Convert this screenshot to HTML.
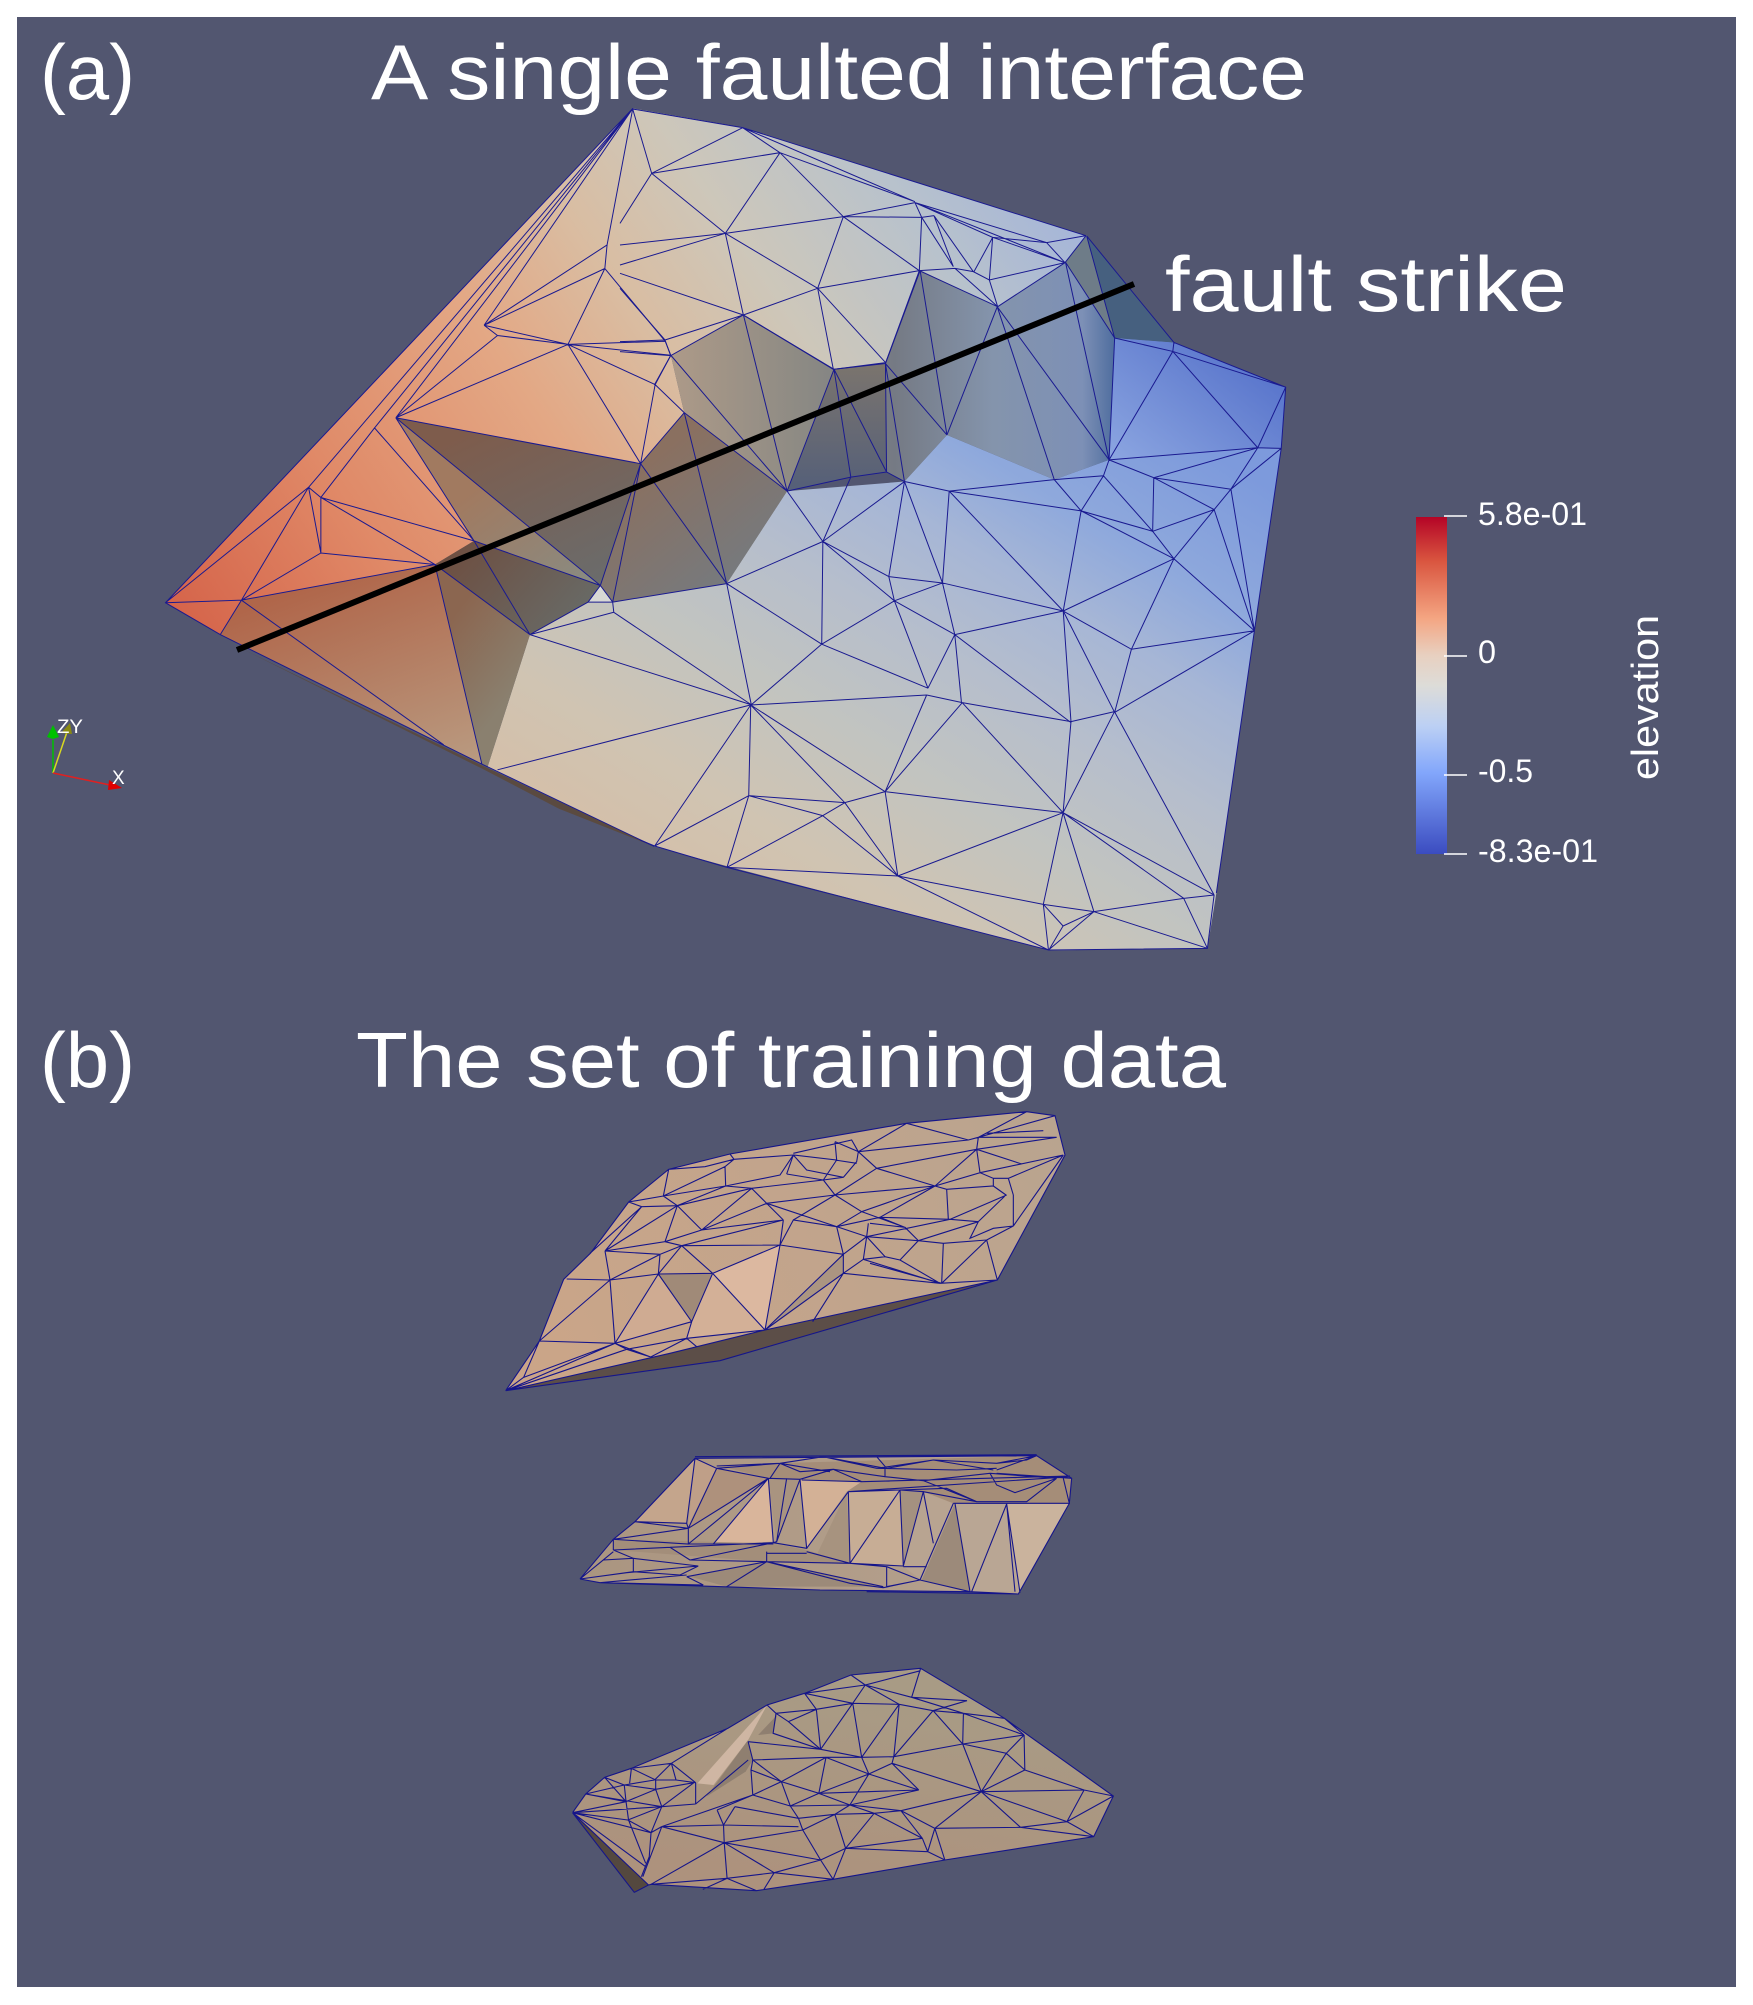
<!DOCTYPE html>
<html><head><meta charset="utf-8"><style>html,body{margin:0;padding:0;background:#fff}svg{display:block}text{font-family:"Liberation Sans",sans-serif;fill:#fff}</style></head>
<body>
<svg width="1753" height="2005" viewBox="0 0 1753 2005" xmlns="http://www.w3.org/2000/svg">
<defs>
<linearGradient id="up" gradientUnits="userSpaceOnUse" x1="150" y1="945" x2="1130" y2="563">
<stop offset="0" stop-color="#d5644a"/><stop offset=".2" stop-color="#e08a68"/><stop offset=".4" stop-color="#e3a885"/><stop offset=".53" stop-color="#d9bda2"/><stop offset=".65" stop-color="#cdc7ba"/><stop offset=".8" stop-color="#b8c2cc"/><stop offset="1" stop-color="#9aaee0"/></linearGradient>
<linearGradient id="lo" gradientUnits="userSpaceOnUse" x1="500" y1="1350" x2="1130" y2="760">
<stop offset="0" stop-color="#d6bda5"/><stop offset=".2" stop-color="#d0c4b2"/><stop offset=".38" stop-color="#c2c4c0"/><stop offset=".55" stop-color="#b6becc"/><stop offset=".7" stop-color="#a6b6d6"/><stop offset=".82" stop-color="#8fa9dc"/><stop offset="1" stop-color="#7d9adc"/></linearGradient>
<linearGradient id="ne" gradientUnits="userSpaceOnUse" x1="1000" y1="720" x2="1150" y2="610"><stop offset="0" stop-color="#8aa4e0"/><stop offset="1" stop-color="#5a76cc"/></linearGradient>
<linearGradient id="sc" gradientUnits="userSpaceOnUse" x1="600" y1="620" x2="1000" y2="620"><stop offset="0" stop-color="#ad9a88"/><stop offset=".3" stop-color="#8c8a84"/><stop offset=".5" stop-color="#757a84"/><stop offset=".72" stop-color="#8494ac"/><stop offset=".92" stop-color="#7d90b6"/><stop offset="1" stop-color="#4a6a9c"/></linearGradient>
<linearGradient id="sd" gradientUnits="userSpaceOnUse" x1="770" y1="575" x2="770" y2="760"><stop offset="0" stop-color="#7a746e"/><stop offset="1" stop-color="#566078"/></linearGradient>
<linearGradient id="ll" gradientUnits="userSpaceOnUse" x1="260" y1="930" x2="430" y2="1190"><stop offset="0" stop-color="#b0664a"/><stop offset="1" stop-color="#b99a80"/></linearGradient>
<linearGradient id="d1" gradientUnits="userSpaceOnUse" x1="390" y1="700" x2="560" y2="900"><stop offset="0" stop-color="#7e5c4c"/><stop offset="1" stop-color="#6a6c6c"/></linearGradient>
<linearGradient id="d2" gradientUnits="userSpaceOnUse" x1="390" y1="1000" x2="480" y2="1040"><stop offset="0" stop-color="#8b6650"/><stop offset="1" stop-color="#8a806f"/></linearGradient>
<linearGradient id="d3" gradientUnits="userSpaceOnUse" x1="400" y1="800" x2="530" y2="900"><stop offset="0" stop-color="#a17a60"/><stop offset="1" stop-color="#8a8a80"/></linearGradient>
<linearGradient id="d4" gradientUnits="userSpaceOnUse" x1="390" y1="880" x2="530" y2="950"><stop offset="0" stop-color="#6e4e40"/><stop offset="1" stop-color="#686a66"/></linearGradient>
<linearGradient id="d5" gradientUnits="userSpaceOnUse" x1="560" y1="750" x2="700" y2="850"><stop offset="0" stop-color="#8a7060"/><stop offset="1" stop-color="#767a7e"/></linearGradient>
<linearGradient id="cb" x1="0" y1="0" x2="0" y2="1"><stop offset="0" stop-color="#b40426"/><stop offset=".13" stop-color="#d9553f"/><stop offset=".3" stop-color="#f4a582"/><stop offset=".41" stop-color="#e8d0c0"/><stop offset=".5" stop-color="#dddcd8"/><stop offset=".62" stop-color="#bcd0f4"/><stop offset=".76" stop-color="#82a6fb"/><stop offset="1" stop-color="#3b4cc0"/></linearGradient>
<linearGradient id="m1" gradientUnits="userSpaceOnUse" x1="-100" y1="800" x2="1500" y2="100"><stop offset="0" stop-color="#cba588"/><stop offset="1" stop-color="#b9a48f"/></linearGradient>
<linearGradient id="m2" gradientUnits="userSpaceOnUse" x1="30" y1="400" x2="1500" y2="200"><stop offset="0" stop-color="#aa9580"/><stop offset="1" stop-color="#b7a390"/></linearGradient>
<linearGradient id="m3" gradientUnits="userSpaceOnUse" x1="800" y1="100" x2="700" y2="700"><stop offset="0" stop-color="#a89b85"/><stop offset="1" stop-color="#ad927d"/></linearGradient>
</defs>
<rect x="0" y="0" width="1753" height="2005" fill="#fff"/>
<rect x="17" y="17" width="1719" height="1970" fill="#525670"/>

<g transform="scale(1.118,0.6378)">
<polygon fill="url(#up)" points="566,170 665,200 972,370 953,411 892,481 823,424 792,570 746,579 665,494 600,557 612,647 573,727 354,655 424,848 389,885 216,941 197,995 148,945"/>
<polygon fill="url(#lo)" points="436,1203 474,995 526,944 548,944 650,915 704,770 809,755 847,682 943,752 992,721 997,530 1050,537 1150,607 1146,703 1122,989 1088,1400 1080,1487 938,1490 650,1358 585,1327"/>
<polygon fill="url(#ne)" points="997,530 1050,537 1150,607 1146,703 1125,702 992,721"/>
<polygon fill="url(#sc)" points="665,494 746,579 792,570 823,424 892,481 953,411 997,530 992,721 943,752 847,682 809,755 793,740 761,748 704,770 650,915 548,944 537,918 573,727 612,647 600,557"/>
<polygon fill="url(#sd)" points="746,579 792,570 793,740 761,748 704,770"/>
<polygon fill="#46607f" points="972,370 1050,537 997,530 953,411"/>
<polygon fill="#6e7c88" points="972,370 997,530 953,411"/>
<polygon fill="url(#d5)" points="573,727 537,918 548,944 650,915 704,770 612,647"/>
<polygon fill="url(#d1)" points="354,655 573,727 537,918"/>
<polygon fill="url(#d3)" points="354,655 537,918 424,848"/>
<polygon fill="url(#ll)" points="216,941 389,885 431,1198 197,995"/>
<polygon fill="url(#d2)" points="389,885 474,995 436,1203 431,1198"/>
<polygon fill="url(#d4)" points="389,885 424,848 537,918 526,944 474,995"/>
<polygon fill="#d8d8d4" points="526,944 537,918 548,944"/>
<polygon fill="#5a4a40" points="215,1016 431,1200 585,1327 500,1268 431,1205"/>
<path fill="none" stroke="#1a1a90" stroke-width="1" vector-effect="non-scaling-stroke" d="M972 370L1050 537L1150 607L1146 703L1122 989L1088 1400M585 1327L431 1198L197 995L148 945L566 170
M566 170L276 764M566 170L335 671M566 170L354 655M566 170L433 510
M148 945L276 764M148 945L216 941L197 995M216 941L276 764M216 941L287 867L389 885M216 941L389 885M276 764L287 867L287 780L276 764M287 780L389 885M287 780L424 848M287 780L335 671L424 848M354 655L424 848M354 655L537 918M354 655L573 727M354 655L508 540M354 655L445 526M433 510L445 526L508 540L433 510M433 510L541 421M433 510L543 384M541 421L508 540M541 421L595 535M508 540L595 535L600 557L508 540M508 540L586 603M508 540L573 727M586 603L600 557M586 603L612 647M586 603L573 727M612 647L573 727M541 421L543 384L566 170M573 727L537 918M573 727L548 944M424 848L537 918M389 885L474 995M424 848L474 995M431 1198L389 885M216 941L397 1168M474 995L526 944L537 918L548 944L549 960L474 995M526 944L548 944M548 944L650 915
M573 727L650 915M600 557L704 770M612 647L704 770M612 647L650 915M665 494L704 770M665 494L746 579L704 770M746 579L761 748M746 579L793 740M792 570L746 579M792 570L793 740L809 755L792 570M792 570L847 682M823 424L792 570M823 424L847 682M892 481L847 682M892 481L943 752M892 481L992 721M953 411L992 721M972 370L997 530M953 411L997 530L992 721M704 770L761 748L793 740L809 755
M992 721L1125 702L1146 703M992 721L987 746L943 752M992 721L1032 749L1125 702M997 530L1049 551L1150 607M1050 537L1049 551L992 721M1049 551L1125 702M1125 702L1150 607M1032 749L1101 767L1125 702M1101 767L1146 703M1032 749L1086 799L1101 767M1032 749L1031 833L1086 799M987 746L1031 833M987 746L967 801M943 752L967 801L1031 833M1031 833L1050 876L1086 799M1050 876L967 801M1050 876L1122 989M1086 799L1122 989M1101 767L1122 989M1050 876L951 958M1050 876L1012 1018M951 958L1012 1018L1122 989M967 801L951 958M849 770L951 958M849 770L967 801M849 770L943 752M849 770L809 755M849 770L843 914M809 755L843 914M809 755L795 904M809 755L736 849M761 748L736 849M704 770L736 849M736 849L795 904M736 849L800 942M736 849L735 1010M736 849L650 915M795 904L843 914M800 942L843 914M795 904L800 942M843 914L951 958M843 914L854 995M800 942L854 995M800 942L735 1010M800 942L830 1079M854 995L830 1079M854 995L951 958M854 995L860 1102M854 995L958 1133M951 958L958 1133M951 958L997 1117M1012 1018L997 1117M1122 989L997 1117M650 915L735 1010M650 915L672 1105M735 1010L672 1105M474 995L672 1105M549 960L672 1105M672 1105L445 1207M735 1010L830 1079"/>
</g>

<g transform="translate(620,100) scale(.33333)">
<path fill="none" stroke="#1a1a90" stroke-width="1" vector-effect="non-scaling-stroke" d="M38 27L368 83L1398 407M38 27L95 220L368 83M95 220L480 158L368 83M480 158L885 305M368 83L885 305M95 220L316 400M95 220L0 370M480 158L316 400M480 158L670 350M0 435L316 400L670 350L905 352L942 347M670 350L885 308M885 308L1280 428L1398 407M885 308L1118 412L1280 428M885 308L1335 488M1118 412L1335 488M1280 428L1335 488M1335 488L1398 407M905 352L885 308M905 352L898 512M670 350L898 512M670 350L593 565M316 400L593 565M316 400L370 645M0 495L316 400M0 520L370 645M370 645L593 565L898 512L1005 505L1060 515L1108 540L1335 488M942 347L1060 515M942 347L1000 500M905 352L1000 500M1118 412L1062 515M1118 412L1108 540M1005 505L1133 620M1108 540L1133 620M1335 488L1133 620M898 512L1133 620M593 565L640 808M593 565L797 788M898 512L797 788M370 645L640 808L797 788M370 645L135 720L152 767L370 645M0 725L135 720M0 565L135 720M0 755L152 767M152 767L103 855"/>
</g>
<g transform="translate(640,640) scale(.3954,.33333)">
<path fill="none" stroke="#1a1a90" stroke-width="1" vector-effect="non-scaling-stroke" d="M0 600L37 618L220 682L1033 930L1435 925L1452 765M280 195L37 618M280 195L275 467M280 195L518 488M280 195L620 455M275 467L37 618M275 467L220 682M275 467L518 488M275 467L462 527M518 488L620 455M462 527L518 488M462 527L220 682M462 527L652 708M518 488L652 708M620 455L652 708M220 682L652 708M620 455L725 165M620 455L815 188M620 455L1070 518M652 708L1070 518M652 708L1020 793M652 708L1033 930M280 195L725 165M725 165L815 188M815 188L1090 245M815 188L1070 518M1090 245L1200 215M1090 245L1070 518M1200 215L1070 518M1200 215L1452 765M1070 518L1452 765M1070 518L1375 775M1070 518L1020 793M1070 518L1148 815M1020 793L1148 815L1375 775L1452 765M1375 775L1435 925M1148 815L1435 925M1148 815L1035 928M1020 793L1033 930M1020 793L1070 858L1035 928M1070 858L1148 815"/>
</g>
<line x1="237" y1="650" x2="1134" y2="284" stroke="#000" stroke-width="6"/>

<g transform="translate(560,1100) scale(.33333)">
<polygon fill="url(#m1)" points="-163,872 -62,723 11,538 92,459 206,306 326,208 510,162 1040,70 1400,35 1485,47 1515,165 1312,540 480,782"/>
<polygon fill="#5c4e48" points="-163,872 330,760 615,690 1312,540 480,782"/>
<polygon fill="#dcb8a0" points="458,520 660,435 615,690"/>
<polygon fill="#a08a78" points="295,522 458,520 395,665"/>
<polygon fill="#cfab92" points="165,730 295,522 395,665"/>
<polygon fill="#d3b097" points="395,665 458,520 615,690 380,715"/>
<polygon fill="#ab9581" points="615,690 850,463 850,520"/>
<path fill="none" stroke="#15158a" stroke-width="1.1" vector-effect="non-scaling-stroke" d="M-163 872L-62 723L11 538L92 459L206 306L326 208L510 162L1040 70L1400 35L1485 47L1515 165L1312 540L615 690L330 760L-163 872L480 782L1312 540
M326 208L310 288M206 306L310 288L495 200L522 178L510 162M326 208L435 200L522 178L700 165M495 200L497 258M206 306L245 320L352 317M245 320L90 460M310 288L352 317M310 288L497 258L660 225L700 165L830 180L825 125M352 317L497 258M352 317L575 265M352 317L315 425L135 453M352 317L425 390M245 320L135 453M352 317L135 453M497 258L575 265L790 240L680 222M575 265L425 390M575 265L620 310M620 310L670 360M620 310L825 285M620 310L830 380M425 390L670 360M425 390L315 425M425 390L620 310M315 425L365 437L300 463L135 453M365 437L660 435M365 437L670 360M365 437L295 522M300 463L295 522M300 463L150 540M135 453L150 540M20 537L150 540L295 522L458 520L365 437M295 522L395 665L458 520M295 522L165 730M150 540L165 730M165 730L395 665M150 540L-62 723M165 730L-62 723M458 520L660 435L615 690M458 520L615 690M395 665L380 715L615 690M660 435L670 360M660 435L850 463L830 380M660 435L700 360L830 380M850 463L850 520L615 690M850 463L615 690M850 520L758 665M850 520L1140 550L1312 540M850 520L910 478L1140 550M930 490L1145 550M850 463L920 410L910 478L975 470L1020 480L1140 550M830 380L920 410M830 380L960 352M925 370L920 410L975 470M920 410L1075 422L1020 480M1075 422L1150 430L1280 420M920 410L1170 358L1255 365M960 352L1170 358M930 370L1035 382L1075 422M960 352L1035 382M1075 422L1255 365M1150 430L1145 550M1280 420L1145 550M1280 420L1312 540M1280 420L1360 378L1300 385L1230 415L1255 365M1360 378L1360 285M1360 285L1345 235L1300 235L1260 218L1125 258L1160 268L1300 258L1338 285L1255 365M1340 285L1170 358M1160 268L1165 358M1300 235L1300 258M1360 378L1510 165M1345 235L1510 165M1260 218L1510 165M1385 192L1250 148M1250 148L1125 258M1250 148L1260 218M1250 148L950 205M1250 148L1490 112M1225 120L1255 112L1400 35M1255 112L1485 47M1255 112L1490 112M1280 100L1450 92M1040 70L1225 120L895 155M1040 70L895 155M1255 112L1250 148M895 155L950 205L1125 258M895 155L875 120L700 160M895 155L890 185L850 232M825 125L895 155M825 180L890 190M700 165L740 210L850 232L790 240M700 165L680 222M830 180L790 240M950 205L825 285M1125 258L825 285M1125 258L905 335L825 285M825 285L790 240M825 285L700 360M905 335L830 380M905 335L1035 382M960 352L1125 258M-163 872L-109 832L-62 723M-109 832L165 730M-163 872L165 730M165 730L272 771M165 730L200 748L380 715M-163 872L200 748M200 748L272 771M272 771L380 715M380 715L410 740"/>
</g>

<g transform="translate(570,1440) scale(.33333)">
<polygon fill="url(#m2)" points="30,417 130,298 195,245 375,55 1400,47 1505,115 1498,190 1345,462 1200,455 750,450 90,428"/>
<polygon fill="#a58d78" points="440,75 1400,47 1505,115 1498,190 1150,190 835,155 690,118 595,115"/>
<polygon fill="#c4a58c" points="195,245 375,55 350,250"/>
<polygon fill="#bf9f88" points="375,55 440,85 355,255"/>
<polygon fill="#ae917c" points="440,85 595,115 355,265"/>
<polygon fill="#d9b59b" points="595,115 610,305 430,312"/>
<polygon fill="#a99480" points="595,115 690,118 620,305"/>
<polygon fill="#d3b196" points="690,118 875,125 830,155 710,325"/>
<polygon fill="#a7937f" points="830,155 840,370 740,345"/>
<polygon fill="#c7ad95" points="835,155 990,150 1000,378 842,370"/>
<polygon fill="#a49180" points="990,150 1060,155 1000,378"/>
<polygon fill="#b8a491" points="1060,155 1150,190 1055,420 1000,380"/>
<polygon fill="#9c8a7a" points="1055,420 1155,190 1200,455"/>
<polygon fill="#b9a694" points="1155,190 1310,192 1350,455 1205,455"/>
<polygon fill="#cab39d" points="1310,192 1498,190 1350,455"/>
<polygon fill="#9c8a79" points="360,410 590,365 940,440 470,440"/>
<polygon fill="#a38e7a" points="130,298 610,310 710,330 840,370 590,365 130,330"/>
<path fill="none" stroke="#15158a" stroke-width="1.1" vector-effect="non-scaling-stroke" d="M30 417L130 298L195 245L375 55L1400 47L1505 115L1498 190L1345 462L1200 455L750 450L90 428L30 417
M375 50L1400 44M375 55L350 250L195 245M375 55L440 85L355 265L350 250M440 85L595 115M440 85L630 70M355 265L595 115M355 312L595 115M355 265L355 312L130 298L195 245M195 245L355 265M130 298L355 265M130 330L130 298M130 330L300 322L360 360M300 322L610 308M595 115L610 308M355 312L610 312M430 312L595 115M650 115L620 305M595 115L690 118L620 305L610 308M690 118L710 325L610 308M695 120L875 125M710 325L835 155M835 155L1500 110M835 155L840 370M710 335L840 370M840 370L990 150M835 155L990 150M990 150L1000 378M840 370L1000 378M990 150L1060 155L1000 378M1060 155L1090 310M1060 155L1220 185L1370 185L1460 115M1150 190L1050 420M1150 190L1500 190M1155 190L1200 455M1310 192L1205 455M1310 192L1350 458M1310 192L1335 455M1480 115L1498 190M1000 380L1070 380M1050 420L950 380M1050 420L1200 455M950 380L950 440M950 440L1050 420M840 370L950 380M590 365L840 370M590 365L840 430L940 443M590 365L940 440M590 365L470 440M590 365L350 410M590 335L590 365M590 340L710 340M360 360L590 365M610 308L360 360M130 330L190 355L385 378M190 355L190 395M385 378L170 398L30 417M385 378L330 405L190 395L30 417M130 335L30 417M190 355L100 360L30 417M90 428L350 405M90 428L400 435M350 410L400 435M890 455L1345 462M940 443L1050 420M440 78L630 70L760 50L920 85L1090 60L1280 70L1400 47M630 70L690 95L790 88L945 110L1060 122L1260 100L1460 115M600 115L630 70M690 118L790 88M790 88L875 125M945 85L945 110M920 85L1160 90L1280 85M875 125L1500 108M1060 122L1220 185M1260 100L1280 135L1335 158L1460 115M990 150L1130 145L1220 185M630 70L780 95M760 50L945 85M920 50L950 85L1090 60L1270 90M1280 70L1370 60L1400 47M1280 90L1400 47M1280 100L1505 115"/>
</g>

<g transform="translate(560,1650) scale(.357,.33333)">
<polygon fill="url(#m3)" points="35,488 72,432 125,382 200,355 470,235 580,165 685,130 815,75 1010,55 1245,205 1550,438 1495,560 1078,630 765,688 550,722 255,703 208,727"/>
<polygon fill="#54483f" points="35,488 248,705 208,727"/>
<polygon fill="#cfb6a3" points="385,400 580,165 527,270 430,405"/>
<polygon fill="#8f7f70" points="410,440 527,270 540,330 520,365"/>
<polygon fill="#8f7f70" points="555,255 608,195 597,250"/>
<path fill="none" stroke="#15158a" stroke-width="1.1" vector-effect="non-scaling-stroke" d="M35 488L72 432L125 382L200 355L470 235L580 165L685 130L815 75L1010 55L1245 205L1550 438L1495 560L1078 630L765 688L550 722L255 703L248 705L35 488M248 705L208 727L35 488
M125 382L185 455M125 382L180 405L265 390M200 355L195 400M200 355L268 390L325 390L312 340L200 355M312 340L265 390M312 340L380 398M312 340L470 235M380 398L325 390M380 398L380 462M268 390L268 418L285 470M268 418L375 398M180 405L185 455M72 432L180 405M72 432L285 470M72 432L185 455M180 405L268 418M185 455L268 418M35 488L285 470M35 488L185 455M35 488L190 510M185 455L192 510M190 510L285 470M190 510L255 548L35 488M255 548L285 470M285 470L375 398M380 462L285 470M192 510L240 640M35 488L240 650M255 548L250 620M250 620L228 680M255 548L285 530M285 530L540 435M380 462L527 330M540 330L745 322L845 322L935 320L1128 282M527 275L730 298M527 275L540 330L535 360L540 435L620 395L535 360M540 330L620 395L725 430L865 372M620 395L745 322M745 322L725 430M745 322L865 372L1005 420L725 430M605 190L718 178L820 160L950 163L1045 182L1130 190L1245 205M605 190L597 250L730 298L845 322M640 215L730 298M718 178L640 215L605 190M718 178L730 298M730 298L820 160M820 160L845 322M845 322L950 163M950 163L935 320M1045 182L935 320M1045 182L1128 282M1130 190L1128 282M1128 282L1300 255M1245 205L1300 255M1130 190L1300 255M1300 255L1302 360M1300 255L1250 310L1128 282M1250 310L1302 360M1250 310L1180 425M1128 282L1180 425M1302 360L1180 425M1302 360L1468 420M1180 425L1468 420L1550 438M1468 420L1420 515M1180 425L930 340M935 320L930 340M845 322L865 372M930 340L865 372M930 340L1005 420M865 372L812 465M1005 420L812 465M1180 425L955 482M1180 425L1050 535M1180 425L1290 532M1180 425L1420 515L1495 560M1420 515L1550 438M1050 535L1290 532L1420 515M1290 532L1495 560M1050 535L1078 630M1050 535L1030 605M1015 565L1030 605L800 595M1015 565L800 595M1015 565L955 482M880 490L1015 565M880 490L800 595M955 482L1050 535M812 465L955 482L880 490L770 493M812 465L880 490M725 430L812 465M725 430L645 468M620 395L645 468L812 465M645 468L540 435M645 468L668 505M668 505L770 493L812 465M770 493L800 595M680 540L770 493M680 540L730 630M668 505L680 540M460 578L680 540M458 525L668 530M458 525L460 578M458 525L285 530M285 530L460 578M490 470L668 505M440 480L458 525M490 470L458 525M540 435L440 480M460 578L730 630M460 578L255 703M460 578L468 685M460 578L600 668M600 668L730 630M730 630L800 595M730 630L765 688M800 595L765 688M468 685L600 668M468 685L255 703M468 685L400 718M468 685L550 722M600 668L765 688M600 668L570 720M800 595L1030 605M1030 605L1078 630M285 530L232 680M815 75L855 105L1010 62M855 105L820 160M855 105L950 163M855 105L985 142L1010 55M685 130L718 178M685 130L820 160M685 130L855 105M985 142L1140 152L1045 182M985 142L1130 190M580 165L605 190"/>
</g>

<text x="40" y="99" font-size="78" textLength="95" lengthAdjust="spacingAndGlyphs">(a)</text>
<text x="371" y="99" font-size="78" textLength="936" lengthAdjust="spacingAndGlyphs">A single faulted interface</text>
<text x="1165" y="311" font-size="78" textLength="402" lengthAdjust="spacingAndGlyphs">fault strike</text>
<text x="40" y="1087" font-size="78" textLength="95" lengthAdjust="spacingAndGlyphs">(b)</text>
<text x="356" y="1087" font-size="78" textLength="870" lengthAdjust="spacingAndGlyphs">The set of training data</text>

<rect x="1416" y="517" width="31" height="337" fill="url(#cb)"/>
<g stroke="#fff" stroke-width="1.5"><line x1="1444" y1="516" x2="1467" y2="516"/><line x1="1444" y1="656" x2="1467" y2="656"/><line x1="1444" y1="775" x2="1467" y2="775"/><line x1="1444" y1="854" x2="1467" y2="854"/></g>
<g font-size="32"><text x="1478" y="525" textLength="109" lengthAdjust="spacingAndGlyphs">5.8e-01</text><text x="1478" y="663" textLength="18" lengthAdjust="spacingAndGlyphs">0</text><text x="1478" y="782" textLength="55" lengthAdjust="spacingAndGlyphs">-0.5</text><text x="1478" y="862" textLength="120" lengthAdjust="spacingAndGlyphs">-8.3e-01</text></g>
<text transform="translate(1658,780) rotate(-90)" font-size="38" textLength="165" lengthAdjust="spacingAndGlyphs">elevation</text>

<line x1="53" y1="773" x2="53" y2="740" stroke="#00c000" stroke-width="1.5"/>
<polygon fill="#00c000" points="53,725 47,737 53,739 59,737"/>
<line x1="53" y1="773" x2="67" y2="732" stroke="#d8d820" stroke-width="1.5"/>
<polygon fill="#8a8a10" points="70,723 61,733 72,734"/>
<line x1="53" y1="773" x2="110" y2="785" stroke="#e02020" stroke-width="1.5"/>
<polygon fill="#e00000" points="122,788 109,780 108,790"/>
<text x="57" y="733" font-size="19" textLength="26" lengthAdjust="spacingAndGlyphs">ZY</text>
<text x="112" y="784" font-size="19">X</text>
</svg>
</body></html>
